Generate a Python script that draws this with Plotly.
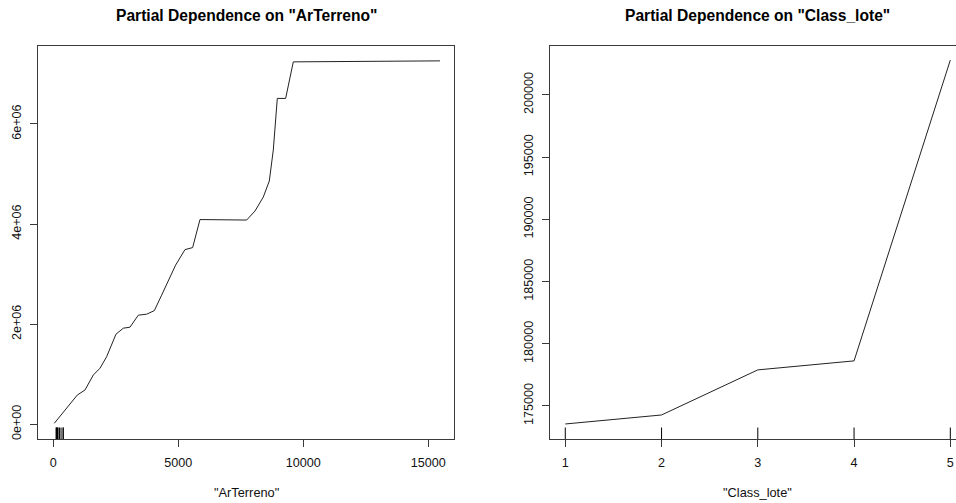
import plotly.graph_objects as go

# ---- data: partial dependence on ArTerreno ----
ar_x = [40, 960, 1267, 1600, 1867, 2133, 2507, 2800, 3067, 3400, 3733, 4040,
        4333, 4600, 4893, 5267, 5573, 5867, 6333, 7733, 8067, 8400, 8640,
        8800, 8960, 9293, 9600, 11867, 15467]
ar_y = [0.02e6, 0.585e6, 0.685e6, 0.985e6, 1.12e6, 1.35e6, 1.80e6, 1.92e6,
        1.94e6, 2.18e6, 2.20e6, 2.27e6, 2.58e6, 2.88e6, 3.18e6, 3.49e6,
        3.53e6, 4.09e6, 4.09e6, 4.08e6, 4.26e6, 4.54e6, 4.86e6, 5.48e6,
        6.51e6, 6.51e6, 7.24e6, 7.245e6, 7.26e6]
ar_rug = [110, 130, 150, 170, 190, 250, 310, 390, 400]
ar_xticks = [0, 5000, 10000, 15000]
ar_yticks = [0, 2e6, 4e6, 6e6]
ar_yticklabels = ["0e+00", "2e+06", "4e+06", "6e+06"]

# ---- data: partial dependence on Class_lote ----
cl_x = [1, 2, 3, 4, 5]
cl_y = [173551, 174275, 177899, 178623, 202804]
cl_rug = [1, 2, 3, 4, 5]
cl_yticks = [175000, 180000, 185000, 190000, 195000, 200000]

W, H = 956, 503
box_top, box_bot = 46.3, 439.3
ydom = [(H - box_bot) / H, (H - box_top) / H]
left_dom = [38.3 / W, 454.3 / W]
right_dom = [549.7 / W, 1.0]

ar_xr = [-600, 16040]
ar_yr = [-299400, 7551000]
cl_xr = [0.838, 5.059]
cl_yr = [172319, 203913]

FONT = "Liberation Sans, Arial, sans-serif"
INK = "#111111"
BOX = "#3a3a3a"

def rug(vals, yr):
    xs, ys = [], []
    top = yr[0] + 0.03 * (yr[1] - yr[0])
    for v in vals:
        xs += [v, v, None]
        ys += [yr[0], top, None]
    return xs, ys

fig = go.Figure()
fig.add_trace(go.Scatter(x=ar_x, y=ar_y, mode="lines",
                         line=dict(color="#222222", width=1),
                         xaxis="x", yaxis="y", showlegend=False))
rx, ry = rug(ar_rug, ar_yr)
fig.add_trace(go.Scatter(x=rx, y=ry, mode="lines",
                         line=dict(color="black", width=1),
                         xaxis="x", yaxis="y", showlegend=False))
fig.add_trace(go.Scatter(x=cl_x, y=cl_y, mode="lines",
                         line=dict(color="#222222", width=1),
                         xaxis="x2", yaxis="y2", showlegend=False))
rx2, ry2 = rug(cl_rug, cl_yr)
fig.add_trace(go.Scatter(x=rx2, y=ry2, mode="lines",
                         line=dict(color="black", width=1),
                         xaxis="x2", yaxis="y2", showlegend=False))

tickfont = dict(family=FONT, size=12.6, color=INK)
common_x = dict(showgrid=False, zeroline=False, showline=True, linecolor=BOX,
                linewidth=1, mirror=True, ticks="outside", ticklen=7,
                tickcolor=BOX, tickfont=tickfont, ticklabelstandoff=5)
common_y = dict(showgrid=False, zeroline=False, showline=True, linecolor=BOX,
                linewidth=1, ticks="outside", ticklen=7, tickcolor=BOX,
                tickfont=tickfont, tickangle=-90, ticklabelstandoff=4)

fig.update_layout(
    width=W, height=H, margin=dict(l=0, r=0, t=0, b=0),
    paper_bgcolor="white", plot_bgcolor="white",
    xaxis=dict(domain=left_dom, range=ar_xr, anchor="y",
               tickvals=ar_xticks, ticktext=[str(v) for v in ar_xticks], **common_x),
    yaxis=dict(domain=ydom, range=ar_yr, anchor="x", mirror=True,
               tickvals=ar_yticks, ticktext=ar_yticklabels, **common_y),
    xaxis2=dict(domain=right_dom, range=cl_xr, anchor="y2",
                tickvals=cl_x, ticktext=[str(v) for v in cl_x], **common_x),
    yaxis2=dict(domain=ydom, range=cl_yr, anchor="x2", mirror=False,
                tickvals=cl_yticks, ticktext=[str(v) for v in cl_yticks], **common_y),
)

left_cx = (38.3 + 454.3) / 2 / W
right_cx = (549.7 + 965.7) / 2 / W
annots = [
    dict(text='<b>Partial Dependence on "ArTerreno"</b>', x=left_cx, y=1 - 15.7 / H),
    dict(text='<b>Partial Dependence on "Class_lote"</b>', x=right_cx, y=1 - 15.7 / H),
]
for a in annots:
    a.update(xref="paper", yref="paper", showarrow=False, xanchor="center",
             yanchor="middle", font=dict(family=FONT, size=15.6, color="black"))
    fig.add_annotation(**a)
for txt, x in [('"ArTerreno"', left_cx), ('"Class_lote"', right_cx)]:
    fig.add_annotation(text=txt, x=x, y=1 - 492.5 / H, xref="paper", yref="paper",
                       showarrow=False, xanchor="center", yanchor="middle",
                       font=dict(family=FONT, size=12.8, color=INK))

fig.write_html("out.html", config={"displayModeBar": False},
               post_script="document.body.style.margin='0';document.body.style.overflow='hidden';")
